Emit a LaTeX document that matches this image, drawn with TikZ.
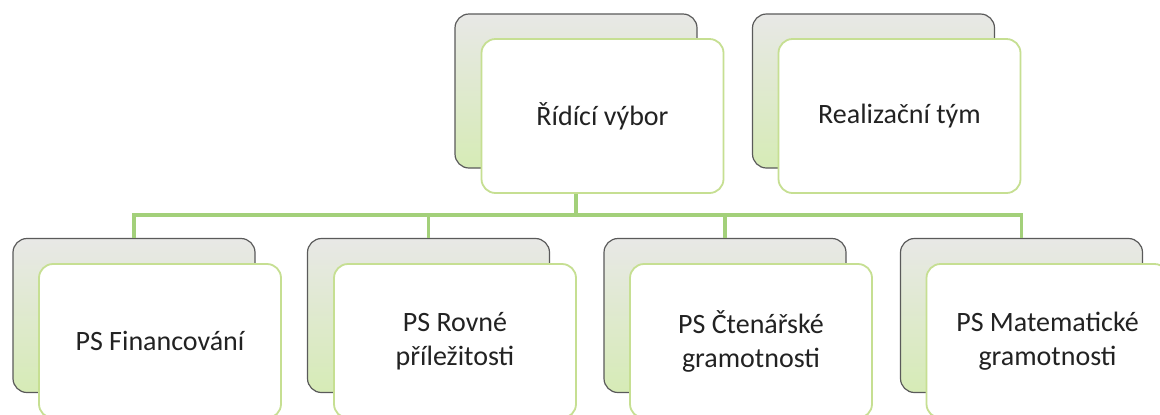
\documentclass[tikz,border=0pt]{standalone}
\usepackage{fontspec}
\setmainfont{Carlito}
\definecolor{backtop}{HTML}{E8E8E6}
\definecolor{backbot}{HTML}{D6EBB6}
\definecolor{backedge}{HTML}{5A5A5A}
\definecolor{frontedge}{HTML}{C6DF92}
\definecolor{linkgreen}{HTML}{A3D07A}
\definecolor{txt}{HTML}{222222}
\tikzset{
  backbox/.style={rectangle, rounded corners=7pt, draw=backedge, line width=0.6pt,
    top color=backtop, bottom color=backbot, minimum width=121pt, minimum height=77pt, inner sep=0pt},
  frontbox/.style={rectangle, rounded corners=7pt, draw=frontedge, line width=0.9pt,
    fill=white, minimum width=121pt, minimum height=77pt, inner sep=0pt,
    align=center, text=txt, font=\fontsize{14pt}{17pt}\selectfont},
  link/.style={draw=linkgreen, line width=1.6pt}
}
\begin{document}
\begin{tikzpicture}[x=0.5pt,y=-0.5pt]
\useasboundingbox (0,0) rectangle (1160,414);
\clip (0,0) rectangle (1160,414);
\fill[white] (0,0) rectangle (1160,414);
% top row
\node[backbox] (ridback) at (576,91) {};
\node[frontbox] (rid) at (602.5,116) {Řídící výbor};
\node[backbox] (realback) at (873.5,91) {};
\node[frontbox] (real) at (899.5,116) {Realizační tým};
% bottom row
\node[backbox] (b1back) at (134,315.5) {};
\node[frontbox] (b1) at (160,341) {PS Financování};
\node[backbox] (b2back) at (428.5,315.5) {};
\node[frontbox] (b2) at (455,341) {PS Rovné\\příležitosti};
\node[backbox] (b3back) at (725,315.5) {};
\node[frontbox] (b3) at (751,341) {PS Čtenářské\\gramotnosti};
\node[backbox] (b4back) at (1021.5,315.5) {};
\node[frontbox] (b4) at (1047.5,341) {PS Matematické\\gramotnosti};
% connectors
\coordinate (bus) at (577,215);
\draw[link] (ridback |- rid.south) -- (ridback |- bus);
\draw[link] (b1back.north) -- (b1back |- bus) -- (b4back |- bus) -- (b4back.north);
\draw[link] (b2back |- bus) -- (b2back.north);
\draw[link] (b3back |- bus) -- (b3back.north);
\end{tikzpicture}
\end{document}
